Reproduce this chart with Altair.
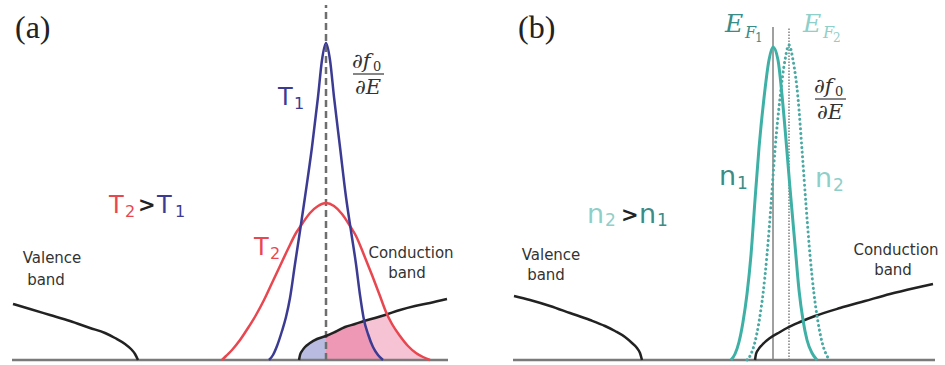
import altair as alt
import pandas as pd

# ---------------- data ----------------
# x: energy axis (px units of the figure), h: height above the baseline
# Panel (a)
valence_a_x = [13, 30, 50, 70, 90, 105, 115, 125, 131, 135, 138]
valence_a_h = [56, 51, 45, 39, 32, 27, 22, 16, 11, 6, 0]
conduction_a_x = [299, 300, 302, 305, 310, 317, 326, 335, 345, 355, 364, 375, 385, 400, 415, 430, 447]
conduction_a_h = [0, 5, 9, 13, 17, 21, 24, 28, 33, 36, 39, 42, 45, 50, 54, 57, 61]
t1_x = [269, 273, 277, 282, 286, 290, 295, 300, 305, 312, 318, 322, 326,
        330, 334, 340, 346, 351, 356, 360, 364, 368, 373, 378, 383]
t1_h = [0, 5, 14, 29, 43, 62, 96, 129, 163, 213, 263, 300, 317,
        300, 263, 213, 163, 129, 96, 65, 40, 26, 13, 5, 0]
t2_x = [222, 226, 232, 240, 248, 256, 264, 272, 280, 288, 296, 302, 310, 318, 326,
        334, 342, 350, 356, 364, 372, 380, 386, 392, 400, 408, 416, 423, 430]
t2_h = [0, 4, 10, 20, 32, 45, 60, 77, 94, 111, 127, 136, 147, 154, 157,
        154, 146, 134, 124, 105, 85, 64, 48, 36, 24, 14, 7, 3, 0]
fermi_a = [326]

# Panel (b)
valence_b_x = [514, 530, 550, 570, 590, 605, 615, 625, 632, 637, 640, 642]
valence_b_h = [64, 60, 54, 47, 40, 34, 29, 23, 17, 12, 7, 0]
conduction_b_x = [755, 756, 758, 762, 770, 780, 787, 800, 815, 840, 865, 890, 915, 933]
conduction_b_h = [0, 6, 10, 15, 22, 28, 32, 38, 44, 52, 59, 66, 72, 76]
n1_x = [731, 735, 739, 743, 747, 751, 755, 759, 764, 769, 773,
        778, 782, 786, 790, 795, 799, 803, 807, 812, 817]
n1_h = [0, 6, 18, 38, 66, 105, 160, 212, 262, 300, 313,
        300, 265, 220, 172, 115, 70, 40, 20, 7, 0]
n2_x = [747, 751, 755, 759, 763, 767, 771, 775, 780, 785, 789,
        793, 798, 802, 806, 810, 814, 818, 822, 826, 830]
n2_h = [0, 6, 18, 38, 66, 105, 155, 210, 262, 300, 315,
        300, 262, 210, 155, 105, 66, 38, 18, 6, 0]
fermi_b = [773, 789]

BLUE = "#3b3b94"
RED = "#e9474f"
TEAL = "#3fb0a6"
TEAL_DOT = "#4aa9a3"
TEAL_DARK = "#3a8c86"
TEAL_LIGHT = "#8fcfc9"
BLACK = "#222222"
GRAY = "#7a7a7a"
LABEL = "#333333"

X = alt.X("x:Q", scale=alt.Scale(domain=[0, 945], nice=False, zero=False), axis=None)
Y = alt.Y("h:Q", scale=alt.Scale(domain=[-5, 360], nice=False, zero=False), axis=None)


def df(xs, hs):
    return pd.DataFrame({"x": xs, "h": hs})


def curve(xs, hs, color, width=2.5, dash=None, cap="butt"):
    kw = dict(color=color, strokeWidth=width, interpolate="monotone", strokeCap=cap)
    if dash:
        kw["strokeDash"] = dash
    return alt.Chart(df(xs, hs)).mark_line(**kw).encode(x=X, y=Y)


def area(xs, hs, color):
    return alt.Chart(df(xs, hs)).mark_area(color=color, opacity=1, interpolate="monotone").encode(
        x=X, y=Y, y2=alt.datum(0))


def pick(xs, hs, lo, hi):
    pts = [(x, h) for x, h in zip(xs, hs) if lo <= x <= hi]
    return [p[0] for p in pts], [p[1] for p in pts]


layers = []

# ---- shaded regions in (a) ----
cbx, cbh = pick(conduction_a_x, conduction_a_h, 326, 385)
rx, rh = pick(t2_x, t2_h, 392, 430)
layers.append(area(cbx + rx, cbh + rh, "#f6c3d5"))
cbx2, cbh2 = pick(conduction_a_x, conduction_a_h, 326, 364)
bx, bh = pick(t1_x, t1_h, 368, 383)
layers.append(area(cbx2 + bx, cbh2 + bh, "#ee98b6"))
lx, lh = pick(conduction_a_x, conduction_a_h, 299, 326)
layers.append(area(lx, lh, "#b9bce0"))

# ---- baselines ----
base = pd.DataFrame({"x": [12, 513], "x2": [448, 935], "h": [0, 0]})
layers.append(alt.Chart(base).mark_rule(color=GRAY, strokeWidth=2.5).encode(x=X, x2="x2:Q", y=Y))

# ---- vertical Fermi-level lines ----
vdash = pd.DataFrame({"x": fermi_a, "h": [0], "h2": [355]})
layers.append(alt.Chart(vdash).mark_rule(color="#6e6e6e", strokeWidth=2.5, strokeDash=[7, 4]).encode(
    x=X, y=Y, y2="h2:Q"))
vsol = pd.DataFrame({"x": fermi_b[:1], "h": [0], "h2": [333]})
layers.append(alt.Chart(vsol).mark_rule(color="#808080", strokeWidth=1.5).encode(x=X, y=Y, y2="h2:Q"))
vdot = pd.DataFrame({"x": fermi_b[1:], "h": [0], "h2": [333]})
layers.append(alt.Chart(vdot).mark_rule(color="#808080", strokeWidth=1.5, strokeDash=[1.5, 1.5]).encode(
    x=X, y=Y, y2="h2:Q"))

# ---- curves ----
layers.append(curve(valence_a_x, valence_a_h, BLACK))
layers.append(curve(conduction_a_x, conduction_a_h, BLACK))
layers.append(curve(t2_x, t2_h, RED))
layers.append(curve(t1_x, t1_h, BLUE))
layers.append(curve(valence_b_x, valence_b_h, BLACK))
layers.append(curve(conduction_b_x, conduction_b_h, BLACK))
layers.append(curve(n2_x, n2_h, TEAL_DOT, width=3, dash=[0.1, 4.6], cap="round"))
layers.append(curve(n1_x, n1_h, TEAL, width=3))

# ---- fraction bars ----
bars = pd.DataFrame({"x": [353, 815], "x2": [384, 846], "h": [360 - 74, 360 - 99]})
layers.append(alt.Chart(bars).mark_rule(color="#444444", strokeWidth=1.3).encode(x=X, x2="x2:Q", y=Y))

# ---- text annotations: (text, x, baseline_y, size, color, font, style, weight, align) ----
SANS = "DejaVu Sans"
SERIF = "Liberation Serif"
MATH = "DejaVu Serif"
N, B = "normal", "bold"
notes = [
    ("(a)", 15, 38, 32, BLACK, SERIF, N, N, "left"),
    ("(b)", 518, 38, 32, BLACK, SERIF, N, N, "left"),
    ("T", 278, 105, 24, BLUE, SANS, N, N, "left"),
    ("1", 294, 109, 16, BLUE, SANS, N, N, "left"),
    ("T", 109, 213, 24, RED, SANS, N, N, "left"),
    ("2", 125, 217, 16, RED, SANS, N, N, "left"),
    (">", 138, 212, 21, BLACK, SANS, N, B, "left"),
    ("T", 157, 213, 24, BLUE, SANS, N, N, "left"),
    ("1", 175, 217, 16, BLUE, SANS, N, N, "left"),
    ("T", 254, 255, 24, RED, SANS, N, N, "left"),
    ("2", 270, 259, 16, RED, SANS, N, N, "left"),
    ("Valence", 52, 263, 15, LABEL, SANS, N, N, "center"),
    ("band", 46, 285, 15, LABEL, SANS, N, N, "center"),
    ("Conduction", 411, 258, 15, LABEL, SANS, N, N, "center"),
    ("band", 407, 278, 15, LABEL, SANS, N, N, "center"),
    ("∂f", 352, 68, 21, "#333333", MATH, "italic", N, "left"),
    ("0", 373, 71, 13, "#333333", MATH, N, N, "left"),
    ("∂E", 368, 94, 21, "#333333", MATH, "italic", N, "center"),
    ("∂f", 814, 93, 21, "#333333", MATH, "italic", N, "left"),
    ("0", 835, 96, 13, "#333333", MATH, N, N, "left"),
    ("∂E", 830, 119, 21, "#333333", MATH, "italic", N, "center"),
    ("E", 725, 32, 25, TEAL_DARK, MATH, "italic", N, "left"),
    ("F", 745, 38, 16, TEAL_DARK, MATH, "italic", N, "left"),
    ("1", 755, 42, 12, TEAL_DARK, MATH, N, N, "left"),
    ("E", 803, 32, 25, TEAL_LIGHT, MATH, "italic", N, "left"),
    ("F", 823, 38, 16, TEAL_LIGHT, MATH, "italic", N, "left"),
    ("2", 833, 42, 12, TEAL_LIGHT, MATH, N, N, "left"),
    ("n", 719, 185, 27, TEAL_DARK, SANS, N, N, "left"),
    ("1", 737, 189, 17, TEAL_DARK, SANS, N, N, "left"),
    ("n", 815, 187, 27, TEAL_LIGHT, SANS, N, N, "left"),
    ("2", 833, 191, 17, TEAL_LIGHT, SANS, N, N, "left"),
    ("n", 587, 223, 27, TEAL_LIGHT, SANS, N, N, "left"),
    ("2", 605, 226, 17, TEAL_LIGHT, SANS, N, N, "left"),
    (">", 621, 222, 21, BLACK, SANS, N, B, "left"),
    ("n", 639, 223, 27, TEAL_DARK, SANS, N, N, "left"),
    ("1", 657, 226, 17, TEAL_DARK, SANS, N, N, "left"),
    ("Valence", 551, 260, 15, LABEL, SANS, N, N, "center"),
    ("band", 546, 280, 15, LABEL, SANS, N, N, "center"),
    ("Conduction", 896, 255, 15, LABEL, SANS, N, N, "center"),
    ("band", 893, 275, 15, LABEL, SANS, N, N, "center"),
]
tdf = pd.DataFrame(notes, columns=["t", "x", "by", "s", "c", "font", "style", "weight", "align"])
tdf["h"] = 360 - tdf["by"]
for (font, style, weight, align), g in tdf.groupby(["font", "style", "weight", "align"]):
    layers.append(
        alt.Chart(g.reset_index(drop=True)).mark_text(
            font=font, fontStyle=style, fontWeight=weight, align=align, baseline="alphabetic"
        ).encode(
            x=X, y=Y, text="t:N",
            color=alt.Color("c:N", scale=None),
            size=alt.Size("s:Q", scale=None),
        )
    )

chart = alt.layer(*layers).properties(
    width=945, height=365, padding=0,
    autosize=alt.AutoSizeParams(type="none"), background="white",
).configure_view(stroke=None)

chart.save("out.html", embed_options={"renderer": "svg", "actions": False})
